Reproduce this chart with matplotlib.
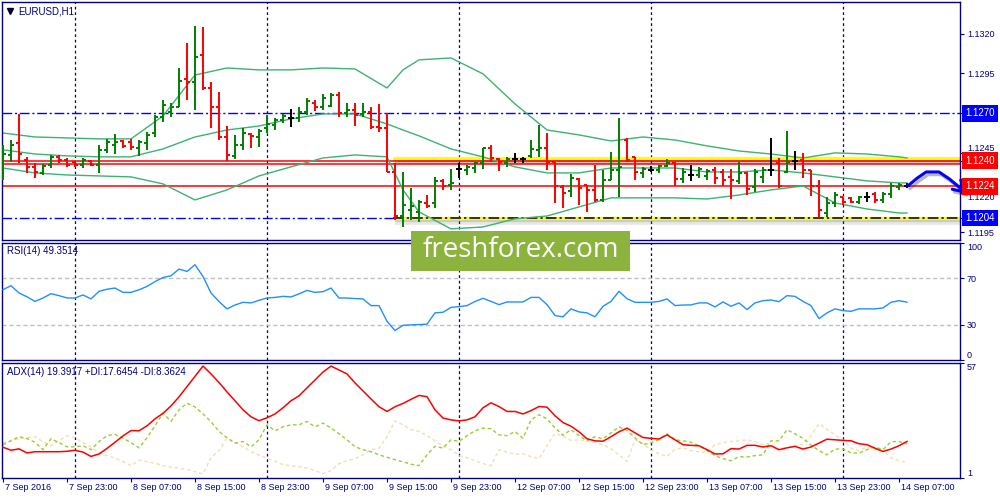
import matplotlib
matplotlib.use("Agg")
import matplotlib.pyplot as plt
import matplotlib.patheffects as pe
import matplotlib.transforms as mtransforms
from matplotlib.patches import Rectangle

plt.rcParams['font.family'] = ['Liberation Sans', 'DejaVu Sans']

# EURUSD H1, one entry per bar (7 Sep 15:00 .. 14 Sep 08:00)
opens = [1.12374, 1.12437, 1.12513, 1.12406, 1.12362, 1.12324, 1.12374, 1.12425, 1.12406, 1.12393,
         1.12374, 1.12399, 1.12374, 1.12469, 1.12500, 1.12525, 1.12519, 1.12481, 1.12513, 1.12575,
         1.12676, 1.12708, 1.12739, 1.12915, 1.12896, 1.13066, 1.12858, 1.12739, 1.12550, 1.12431,
         1.12500, 1.12569, 1.12550, 1.12607, 1.12626, 1.12657, 1.12670, 1.12670, 1.12708, 1.12764,
         1.12739, 1.12745, 1.12814, 1.12701, 1.12720, 1.12695, 1.12708, 1.12613, 1.12607, 1.12330,
         1.12053, 1.12091, 1.12079, 1.12135, 1.12135, 1.12274, 1.12248, 1.12349, 1.12343, 1.12355,
         1.12387, 1.12481, 1.12412, 1.12387, 1.12412, 1.12412, 1.12431, 1.12469, 1.12481, 1.12393,
         1.12236, 1.12211, 1.12286, 1.12248, 1.12217, 1.12154, 1.12280, 1.12343, 1.12531, 1.12425,
         1.12324, 1.12343, 1.12343, 1.12368, 1.12387, 1.12286, 1.12311, 1.12311, 1.12305, 1.12343,
         1.12330, 1.12299, 1.12274, 1.12324, 1.12236, 1.12299, 1.12343, 1.12387, 1.12330, 1.12399,
         1.12406, 1.12343, 1.12242, 1.12072, 1.12135, 1.12173, 1.12167, 1.12141, 1.12173, 1.12192,
         1.12154, 1.12192, 1.12236, 1.12242]
highs = [1.12500, 1.12531, 1.12695, 1.12425, 1.12387, 1.12380, 1.12437, 1.12437, 1.12418, 1.12399,
         1.12418, 1.12406, 1.12500, 1.12538, 1.12569, 1.12531, 1.12538, 1.12531, 1.12582, 1.12689,
         1.12783, 1.12764, 1.12984, 1.13142, 1.13249, 1.13242, 1.12896, 1.12833, 1.12619, 1.12563,
         1.12607, 1.12575, 1.12601, 1.12689, 1.12670, 1.12695, 1.12726, 1.12739, 1.12796, 1.12783,
         1.12821, 1.12827, 1.12833, 1.12764, 1.12764, 1.12764, 1.12739, 1.12758, 1.12701, 1.12387,
         1.12330, 1.12230, 1.12154, 1.12185, 1.12299, 1.12286, 1.12349, 1.12387, 1.12374, 1.12393,
         1.12481, 1.12500, 1.12418, 1.12425, 1.12450, 1.12425, 1.12531, 1.12626, 1.12575, 1.12393,
         1.12248, 1.12318, 1.12292, 1.12248, 1.12374, 1.12343, 1.12456, 1.12670, 1.12544, 1.12425,
         1.12362, 1.12368, 1.12374, 1.12412, 1.12393, 1.12355, 1.12374, 1.12362, 1.12349, 1.12362,
         1.12349, 1.12349, 1.12393, 1.12330, 1.12349, 1.12362, 1.12544, 1.12418, 1.12588, 1.12462,
         1.12450, 1.12343, 1.12280, 1.12173, 1.12204, 1.12173, 1.12173, 1.12179, 1.12204, 1.12204,
         1.12204, 1.12261, 1.12261, 1.12261]
lows = [1.12280, 1.12393, 1.12387, 1.12324, 1.12292, 1.12311, 1.12355, 1.12387, 1.12362, 1.12362,
        1.12355, 1.12368, 1.12324, 1.12450, 1.12443, 1.12481, 1.12469, 1.12431, 1.12469, 1.12550,
        1.12645, 1.12676, 1.12739, 1.12783, 1.12720, 1.12846, 1.12607, 1.12531, 1.12399, 1.12412,
        1.12469, 1.12481, 1.12487, 1.12575, 1.12594, 1.12638, 1.12613, 1.12645, 1.12689, 1.12714,
        1.12720, 1.12739, 1.12676, 1.12676, 1.12619, 1.12676, 1.12601, 1.12582, 1.12330, 1.12028,
        1.11984, 1.12028, 1.12016, 1.12104, 1.12104, 1.12217, 1.12217, 1.12292, 1.12311, 1.12324,
        1.12349, 1.12393, 1.12336, 1.12362, 1.12387, 1.12387, 1.12418, 1.12425, 1.12343, 1.12135,
        1.12104, 1.12173, 1.12123, 1.12079, 1.12141, 1.12141, 1.12280, 1.12173, 1.12393, 1.12280,
        1.12292, 1.12330, 1.12324, 1.12362, 1.12242, 1.12261, 1.12274, 1.12292, 1.12280, 1.12255,
        1.12242, 1.12160, 1.12255, 1.12185, 1.12204, 1.12261, 1.12305, 1.12230, 1.12324, 1.12343,
        1.12292, 1.12179, 1.12041, 1.12047, 1.12110, 1.12123, 1.12135, 1.12129, 1.12141, 1.12135,
        1.12135, 1.12167, 1.12217, 1.12230]
closes = [1.12443, 1.12500, 1.12443, 1.12362, 1.12330, 1.12368, 1.12425, 1.12406, 1.12374, 1.12374,
          1.12406, 1.12374, 1.12469, 1.12519, 1.12519, 1.12494, 1.12487, 1.12519, 1.12563, 1.12676,
          1.12752, 1.12739, 1.12902, 1.12896, 1.13053, 1.12858, 1.12739, 1.12550, 1.12437, 1.12500,
          1.12575, 1.12557, 1.12588, 1.12632, 1.12657, 1.12682, 1.12670, 1.12708, 1.12777, 1.12739,
          1.12796, 1.12814, 1.12701, 1.12720, 1.12689, 1.12708, 1.12613, 1.12607, 1.12330, 1.12053,
          1.12123, 1.12116, 1.12141, 1.12116, 1.12274, 1.12242, 1.12261, 1.12349, 1.12362, 1.12387,
          1.12481, 1.12418, 1.12393, 1.12412, 1.12412, 1.12412, 1.12475, 1.12481, 1.12393, 1.12242,
          1.12198, 1.12292, 1.12230, 1.12217, 1.12154, 1.12280, 1.12343, 1.12362, 1.12406, 1.12330,
          1.12349, 1.12343, 1.12368, 1.12387, 1.12286, 1.12330, 1.12311, 1.12349, 1.12336, 1.12292,
          1.12280, 1.12280, 1.12324, 1.12223, 1.12330, 1.12343, 1.12343, 1.12242, 1.12393, 1.12399,
          1.12343, 1.12242, 1.12091, 1.12135, 1.12185, 1.12141, 1.12141, 1.12173, 1.12173, 1.12154,
          1.12192, 1.12242, 1.12248, 1.12242]

# Bollinger bands, read at these bars
bb_bars = [0, 4, 8, 12, 16, 20, 24, 28, 32, 36, 40, 44, 48, 50, 52, 56, 60, 64, 68, 72,
           76, 80, 84, 88, 92, 96, 100, 104, 108, 112, 113]
bb_upper = [1.12575, 1.12550, 1.12544, 1.12538, 1.12538, 1.12682, 1.12940, 1.12984, 1.12972, 1.12972,
            1.12984, 1.12978, 1.12858, 1.12972, 1.13035, 1.13047, 1.12947, 1.12758, 1.12594, 1.12563,
            1.12525, 1.12550, 1.12531, 1.12494, 1.12462, 1.12443, 1.12418, 1.12450, 1.12443, 1.12425,
            1.12418]
bb_middle = [1.12469, 1.12443, 1.12431, 1.12425, 1.12425, 1.12475, 1.12550, 1.12594, 1.12619, 1.12664,
             1.12695, 1.12695, 1.12632, 1.12594, 1.12557, 1.12475, 1.12425, 1.12362, 1.12324, 1.12324,
             1.12355, 1.12355, 1.12355, 1.12330, 1.12330, 1.12343, 1.12324, 1.12299, 1.12274, 1.12261,
             1.12261]
bb_lower = [1.12355, 1.12324, 1.12311, 1.12305, 1.12299, 1.12255, 1.12154, 1.12217, 1.12305, 1.12362,
            1.12418, 1.12437, 1.12425, 1.12217, 1.12079, 1.11972, 1.11984, 1.12035, 1.12053, 1.12110,
            1.12167, 1.12167, 1.12167, 1.12160, 1.12185, 1.12217, 1.12242, 1.12135, 1.12097, 1.12072,
            1.12072]

rsi = [60.1, 63.5, 57.3, 54.0, 50.1, 53.0, 56.7, 55.0, 53.0, 53.0,
       55.6, 52.2, 58.7, 60.5, 61.5, 57.8, 57.8, 60.0, 62.9, 67.0,
       70.5, 72.0, 77.7, 75.7, 81.4, 71.4, 57.3, 50.0, 43.7, 47.0,
       49.3, 48.8, 51.0, 53.0, 53.5, 54.4, 53.9, 56.5, 59.5, 57.8,
       58.4, 61.5, 53.0, 53.0, 52.5, 52.2, 46.5, 46.5, 33.1, 25.2,
       29.7, 30.0, 30.3, 30.6, 40.3, 40.8, 45.0, 45.6, 46.5, 50.0,
       52.7, 50.1, 47.3, 49.6, 49.6, 49.6, 53.5, 53.5, 47.3, 38.0,
       36.9, 43.7, 41.1, 40.3, 36.9, 45.9, 50.1, 58.7, 52.4, 49.3,
       49.3, 49.3, 50.1, 52.2, 46.5, 47.0, 47.1, 48.8, 48.8, 45.4,
       49.6, 45.9, 48.8, 43.1, 48.8, 50.7, 51.3, 49.9, 55.0, 54.4,
       50.1, 46.5, 35.4, 40.3, 43.7, 42.2, 41.6, 43.7, 43.7, 43.7,
       44.5, 49.3, 50.7, 49.4]

adx = [16.0, 14.5, 15.2, 13.2, 13.8, 13.8, 13.8, 13.8, 14.0, 14.5,
       13.6, 11.5, 12.7, 15.4, 18.4, 21.5, 24.1, 24.0, 26.4, 29.8,
       32.5, 36.1, 40.5, 45.5, 50.5, 55.5, 51.7, 47.5, 42.9, 38.6,
       34.2, 30.8, 28.9, 30.3, 32.2, 35.2, 38.6, 41.0, 44.9, 48.7,
       52.6, 55.5, 53.6, 51.7, 47.3, 43.4, 39.5, 35.7, 33.4, 35.7,
       37.3, 39.3, 41.2, 40.6, 34.2, 30.2, 29.3, 28.8, 29.3, 30.8,
       35.2, 37.6, 35.8, 33.4, 33.4, 32.2, 33.8, 35.8, 35.5, 31.3,
       28.0, 26.2, 23.5, 20.1, 19.1, 18.9, 21.1, 23.5, 25.3, 23.0,
       20.7, 20.3, 20.0, 22.0, 19.6, 17.2, 16.9, 16.7, 14.8, 12.7,
       12.8, 15.3, 15.1, 16.9, 16.9, 16.1, 16.7, 14.8, 15.7, 16.4,
       15.1, 16.1, 18.0, 19.9, 19.6, 19.3, 19.1, 17.7, 17.2, 15.5,
       13.9, 15.1, 16.7, 18.8]
plus_di = [17.2, 19.1, 21.1, 20.2, 18.4, 14.8, 20.1, 18.2, 16.2, 16.2,
           16.7, 14.8, 18.7, 21.6, 22.3, 20.4, 18.2, 15.7, 20.6, 26.4,
           32.6, 28.6, 34.2, 37.4, 35.6, 32.2, 28.4, 23.7, 20.6, 17.9,
           18.8, 16.2, 19.6, 26.9, 24.0, 25.9, 26.9, 26.9, 28.5, 25.9,
           27.7, 25.4, 22.5, 19.6, 16.2, 14.8, 13.8, 12.3, 11.1, 9.9,
           8.9, 7.7, 7.0, 12.3, 16.4, 15.6, 19.6, 18.8, 21.6, 24.0,
           25.3, 25.0, 22.0, 21.6, 23.6, 20.4, 29.3, 31.8, 29.8, 25.4,
           21.8, 24.5, 21.6, 19.1, 21.1, 20.1, 23.0, 25.9, 24.1, 20.6,
           17.2, 18.2, 19.6, 22.5, 19.6, 19.1, 18.4, 16.7, 14.3, 11.9,
           10.4, 9.4, 11.4, 11.2, 11.9, 12.3, 19.1, 19.1, 24.5, 22.5,
           20.3, 17.0, 14.3, 12.3, 15.1, 15.1, 13.3, 13.1, 14.8, 16.1,
           14.8, 18.7, 18.8, 17.6]
minus_di = [18.0, 19.4, 20.1, 20.6, 21.1, 18.7, 16.7, 19.1, 21.6, 20.6,
            18.2, 16.0, 13.3, 11.9, 10.7, 9.0, 7.0, 9.7, 8.9, 8.2,
            7.0, 6.3, 5.8, 5.1, 4.1, 3.0, 10.9, 14.3, 20.4, 18.4,
            16.2, 13.8, 12.1, 10.7, 9.2, 7.5, 7.0, 6.5, 5.9, 4.6,
            3.1, 4.6, 8.0, 9.4, 10.4, 12.3, 14.8, 15.5, 21.1, 28.8,
            26.9, 24.5, 23.7, 21.6, 19.1, 16.4, 14.8, 11.9, 10.9, 9.4,
            8.0, 7.0, 14.8, 13.6, 12.6, 12.8, 11.4, 10.4, 16.7, 22.8,
            21.3, 19.3, 19.6, 19.1, 18.2, 17.2, 15.3, 12.3, 9.1, 19.6,
            17.7, 14.5, 12.8, 11.5, 15.0, 15.7, 14.3, 13.8, 13.5, 17.2,
            18.2, 18.8, 19.1, 19.6, 18.7, 17.2, 17.9, 14.3, 15.7, 16.7,
            17.4, 21.6, 27.4, 24.7, 22.0, 19.6, 15.5, 14.3, 16.0, 15.3,
            14.3, 10.9, 9.4, 8.4]

tick_bars = [0, 8, 16, 24, 32, 40, 48, 56, 64, 72, 80, 88, 96, 104, 112]
tick_labels = ["7 Sep 2016", "7 Sep 23:00", "8 Sep 07:00", "8 Sep 15:00", "8 Sep 23:00",
               "9 Sep 07:00", "9 Sep 15:00", "9 Sep 23:00", "12 Sep 07:00", "12 Sep 15:00",
               "12 Sep 23:00", "13 Sep 07:00", "13 Sep 15:00", "13 Sep 23:00", "14 Sep 07:00"]
day_breaks = [9, 33, 57, 81, 105]

price_ticks = [1.1195, 1.1220, 1.1245, 1.1295, 1.1320]
box_levels = [1.1270, 1.1240, 1.1224, 1.1204]
box_colors = ['#0000FF', '#FF0000', '#FF0000', '#0000FF']
red_levels = [1.1240, 1.1238, 1.1224]
blue_levels = [1.1270, 1.1204]
zone_top = 1.1242        # yellow resistance marker
zone_start = 48.8        # drawn zones start here (bar index)

# hand-drawn forecast arrow, offsets from the last bar / last close
fc_dx = [0.1, 1.3, 2.4, 4.0, 5.3, 6.5, 7.5]
fc_dy = [0.0, 0.0005, 0.00088, 0.00088, 0.00044, -0.00006, -0.00052]

NAVY = '#000080'
W, H = 1000, 500
fig = plt.figure(figsize=(10, 5), dpi=100)
fig.patch.set_facecolor('white')


def px_axes(x0, y0, x1, y1):
    return fig.add_axes([x0 / W, 1 - y1 / H, (x1 - x0) / W, (y1 - y0) / H])


ax = px_axes(2, 2, 960, 240)
ax_rsi = px_axes(2, 243, 960, 360)
ax_adx = px_axes(2, 363, 960, 478)

n = len(closes)
bars = list(range(n))
x_right = 119.625

for a in (ax, ax_rsi, ax_adx):
    a.set_xlim(-0.125, x_right)
    for s in a.spines.values():
        s.set_color(NAVY)
        s.set_linewidth(1)
    a.yaxis.tick_right()
    a.tick_params(axis='y', direction='out', length=3, width=0.8, color=NAVY,
                  labelcolor=NAVY, labelsize=6.5, pad=2)
    a.tick_params(axis='x', bottom=False, labelbottom=False)
    for d in day_breaks:
        a.axvline(d, color=NAVY, lw=0.9, ls=(0, (2.2, 2.2)), zorder=1)

# ---- main price panel
ax.set_ylim(1.11902, 1.13399)
ax.set_yticks(price_ticks + box_levels)
ax.set_yticklabels(['%.4f' % p for p in price_ticks] + [''] * len(box_levels))
# the 1.1245 / 1.1220 labels sit next to the boxed levels, nudge them aside
for lab in ax.get_yticklabels():
    if lab.get_text() == '1.1245':
        lab.set_va('bottom')
    elif lab.get_text() == '1.1220':
        lab.set_va('top')

shadow = [pe.SimpleLineShadow(offset=(1.5, -2.5), shadow_color='0.35', alpha=0.15, linewidth=4),
          pe.SimpleLineShadow(offset=(1, -1.5), shadow_color='0.35', alpha=0.2), pe.Normal()]

ax.fill_between([zone_start, x_right], min(red_levels[:2]), zone_top, color='#E2D6D6', lw=0, zorder=0.8)
for lv in blue_levels:
    ax.axhline(lv, color='#0000FF', lw=1, ls=(0, (7, 2, 1.5, 2)), zorder=1)
ax.hlines([zone_top, blue_levels[1]], zone_start, x_right, colors='#FFFF00', lw=2.3, zorder=1.4,
          path_effects=shadow)
ax.hlines(blue_levels[1], zone_start, x_right, colors='black', lw=1.1, ls=(0, (7, 2, 1.5, 2)), zorder=1.6)
for lv in red_levels:
    ax.axhline(lv, color='#FF0000', lw=1.1, zorder=1.5)

ax.plot(bb_bars, bb_upper, color='#3CB371', lw=1, zorder=2)
ax.plot(bb_bars, bb_middle, color='#3CB371', lw=1, zorder=2)
ax.plot(bb_bars, bb_lower, color='#3CB371', lw=1, zorder=2)

cols = ['#008000' if c > o else '#FF0000' if c < o else 'black' for o, c in zip(opens, closes)]
ax.vlines(bars, lows, highs, colors=cols, lw=1.4, zorder=4)
ax.hlines(opens, [b - 0.4 for b in bars], bars, colors=cols, lw=1.4, zorder=4)
ax.hlines(closes, bars, [b + 0.4 for b in bars], colors=cols, lw=1.4, zorder=4)

for lv, colr in zip(box_levels, box_colors):
    ax.text(1.0056, lv, '%.4f' % lv, transform=ax.get_yaxis_transform(), ha='left', va='center',
            color='white', fontsize=7, zorder=10, clip_on=False,
            bbox=dict(boxstyle='square,pad=0.35', fc=colr, ec='none'))

fx = [bars[-1] + d for d in fc_dx]
fy = [closes[-1] + d for d in fc_dy]
arrow_fx = [pe.SimpleLineShadow(offset=(1.5, -2), shadow_color='0.2', alpha=0.35), pe.Normal()]
ax.plot(fx[:-1], fy[:-1], color='#0000FF', lw=2.2, clip_on=False, zorder=9,
        solid_joinstyle='round', solid_capstyle='round', path_effects=arrow_fx)
ax.annotate('', xy=(fx[-1], fy[-1]), xytext=(fx[-2], fy[-2]), annotation_clip=False, zorder=9,
            arrowprops=dict(arrowstyle='->,head_length=0.8,head_width=0.45', color='#0000FF', lw=2.2,
                            shrinkA=0, shrinkB=0, path_effects=arrow_fx))

ax.plot([0.0084], [0.962], marker='v', ms=4.5, color='#000030', transform=ax.transAxes, clip_on=False)
ax.text(0.0167, 0.962, 'EURUSD,H1', transform=ax.transAxes, ha='left', va='center',
        fontsize=7, color=NAVY)

# ---- RSI panel
ax_rsi.set_ylim(0, 100)
ax_rsi.axhline(70, color='#C0C0C0', lw=1, ls=(0, (3, 2)), zorder=1)
ax_rsi.axhline(30, color='#C0C0C0', lw=1, ls=(0, (3, 2)), zorder=1)
ax_rsi.plot(bars, rsi, color='#1E90FF', lw=1, zorder=3)
ax_rsi.set_yticks([0, 30, 70, 100])
ax_rsi.set_yticklabels(['0', '30', '70', '100'])
rl = ax_rsi.get_yticklabels()
rl[0].set_va('bottom')
rl[3].set_va('top')
ax_rsi.text(0.0052, 0.93, 'RSI(14) 49.3514', transform=ax_rsi.transAxes, ha='left', va='center',
            fontsize=7, color=NAVY)

# ---- ADX panel
ax_adx.set_ylim(1, 57)
ax_adx.plot(bars, minus_di, color='#F5DEB3', lw=1, ls=(0, (2.5, 2)), zorder=2)
ax_adx.plot(bars, plus_di, color='#9ACD32', lw=1, ls=(0, (2.5, 2)), zorder=2)
ax_adx.plot(bars, adx, color='#FF0000', lw=1.1, zorder=3)
ax_adx.set_yticks([1, 57])
ax_adx.set_yticklabels(['1', '57'])
al = ax_adx.get_yticklabels()
al[0].set_va('bottom')
al[1].set_va('top')
ax_adx.text(0.0052, 0.92, 'ADX(14) 19.3917 +DI:17.6454 -DI:8.3624', transform=ax_adx.transAxes,
            ha='left', va='center', fontsize=7, color=NAVY)

ax_adx.set_xticks(tick_bars)
ax_adx.tick_params(axis='x', bottom=True, direction='out', length=3, width=0.8, color=NAVY,
                   labelbottom=False)
trans = mtransforms.offset_copy(ax_adx.get_xaxis_transform(), fig=fig, x=2, y=-5, units='dots')
for b, lab in zip(tick_bars, tick_labels):
    ax_adx.text(b, 0, lab, transform=trans, ha='left', va='top', fontsize=6.5, color=NAVY)

# ---- watermark
fig.patches.append(Rectangle((411 / W, 1 - 271 / H), 219 / W, 40 / H, transform=fig.transFigure,
                             fc='#8DB33F', ec='none', zorder=5))
fig.text(520.5 / W, 1 - 250 / H, 'freshforex.com', color='white', fontsize=20, family='Open Sans',
         ha='center', va='center', zorder=6)

fig.savefig('out.png', dpi=100)
